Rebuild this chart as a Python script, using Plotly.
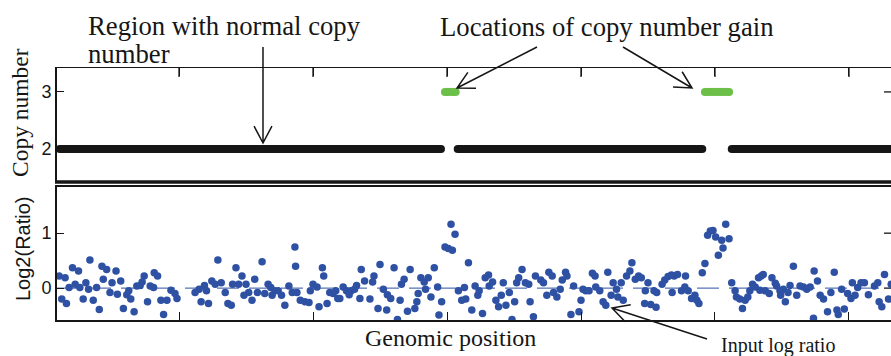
import math
import plotly.graph_objects as go

# ---------------- data ----------------
probe_pos = [2.1, 2.5, 3.0, 3.2, 3.6, 4.1, 4.5, 5.0, 5.2, 5.7, 6.1, 6.5, 6.7, 7.2, 7.7, 8.1, 8.5, 8.7,
             9.2, 9.7, 10.0, 10.6, 10.8, 11.3, 11.7, 12.2, 12.5, 12.8, 13.3, 13.7, 14.2, 14.5, 14.8,
             15.3, 15.7, 16.2, 16.3, 16.8, 17.3, 17.7, 18.2, 18.8, 19.4, 19.7,
             22.4, 23.0, 23.3, 23.8, 24.1, 24.4, 24.9, 25.4, 25.8, 26.3, 26.9, 27.3, 27.8, 28.0, 28.5,
             28.9, 29.4, 29.7, 30.0, 30.4, 30.9, 31.3, 31.7, 32.4, 32.8, 33.3, 33.7, 33.9, 34.3, 34.8,
             35.3, 35.8, 36.4, 36.9, 37.3, 37.4, 37.6, 38.1, 38.8, 39.4, 39.6, 40.0, 40.6, 40.9, 41.4,
             41.6, 42.1, 42.5, 43.0, 43.4, 43.7, 44.0, 44.5, 45.0, 45.4, 45.7, 46.2, 46.5, 47.0, 47.2,
             47.7, 48.5, 48.9, 49.1, 49.7, 50.0, 50.5, 51.0, 51.1, 51.6, 52.1, 52.6, 53.0, 53.2, 53.6,
             54.1, 54.5, 55.2, 55.5, 55.7, 56.1, 56.6, 56.8, 57.2, 57.6, 58.1, 58.6, 58.8, 59.2,
             59.7, 60.2, 60.6, 60.8, 61.2,
             61.7, 62.2, 62.6, 62.8, 63.2, 63.7, 64.2, 64.6, 64.8, 65.3, 65.7, 66.2, 66.3, 66.8, 67.3,
             67.7, 68.1, 68.4, 68.8, 69.3, 69.7, 70.1, 70.4, 70.7, 71.2, 71.7, 72.2, 72.4, 72.9, 73.2,
             74.0, 74.4, 74.9, 75.2, 75.7, 75.9, 76.4, 76.9, 77.2, 77.7, 77.9, 78.5, 78.9, 79.7, 80.0,
             80.3, 80.7, 81.2, 81.7, 82.1, 82.2, 82.8, 83.3, 83.7, 84.0, 84.5, 84.8, 85.3, 85.5, 86.0,
             86.3, 86.8, 87.3, 87.6, 88.1, 88.6, 89.0, 89.5, 89.6, 90.0, 90.4, 90.9, 91.3, 91.2, 92.1,
             92.5, 93.0, 93.5, 93.6, 93.9, 94.4, 95.0, 95.5, 95.6, 96.0, 96.5, 97.0, 97.3, 97.6, 98.1,
             98.5, 98.9, 99.3, 99.7, 100.1, 100.5, 101.0, 101.2, 101.6, 102.1,
             102.5, 103.0, 103.2, 103.7, 104.1, 104.5, 104.9, 105.2, 105.6, 106.0, 106.5, 106.7, 106.9,
             107.2, 107.5, 108.1, 108.5, 109.0, 109.2, 109.7, 109.8, 110.2, 110.5, 110.9, 111.2, 111.7,
             112.2, 112.7, 113.2, 113.7, 114.2, 114.7, 114.8, 115.3, 115.7, 116.2, 116.8, 117.3, 117.8,
             118.2, 118.4, 118.9, 119.3, 119.8, 120.3, 120.5, 120.9, 121.3, 121.8, 122.3, 122.9, 123.8,
             124.3, 124.5, 124.9, 125.3, 125.9, 126.3]

log2_ratio = [0.22, -0.20, 0.19, -0.28, 0.01, 0.37, 0.07, 0.31, 0.01, -0.20, 0.10, -0.02, 0.51, -0.22,
              0.01, -0.39, 0.40, 0.16, 0.34, -0.08, 0.10, 0.31, -0.11, 0.13, -0.37, -0.12, -0.05, -0.20,
              -0.43, 0.04, 0.05, 0.11, 0.22, -0.25, 0.04, 0.01, 0.28, 0.22, -0.22, -0.48, -0.22, -0.04,
              -0.10, -0.19,
              -0.08, -0.02, -0.25, 0.05, -0.05, -0.28, 0.13, 0.07, 0.51, 0.10, -0.08, -0.28, -0.31, 0.07,
              0.37, 0.07, 0.22, -0.13, 0.07, -0.08, -0.22, 0.16, -0.08, 0.48, -0.10, 0.07, 0.01, -0.13,
              -0.05, -0.05, -0.13, -0.31, 0.04, -0.08, 0.75, 0.40, -0.08, -0.22, -0.25, -0.26, -0.05,
              0.07, 0.02, -0.34, 0.37, 0.22, -0.28, -0.08, -0.10, -0.05, -0.19, -0.19, 0.02, -0.05,
              -0.12, -0.05, -0.02, 0.05, -0.19, 0.34, 0.13, -0.20, 0.11, 0.22, -0.37, 0.43, -0.02, -0.40,
              -0.12, -0.19, 0.37, -0.57, -0.22, 0.07, 0.16, -0.42, 0.34, -0.37, -0.25, -0.10, 0.19, 0.11,
              -0.02, 0.19, -0.16, 0.37, 0.02, -0.49, -0.25,
              0.75, 0.72, 1.16, 0.69, 0.98,
              -0.05, -0.22, 0.01, -0.20, 0.46, -0.40, 0.04, -0.13, -0.05, -0.46, 0.19, 0.24, 0.04, 0.11,
              -0.22, -0.34, -0.13, 0.10, -0.31, -0.08, -0.57, -0.25, 0.10, 0.19, 0.34, 0.10, 0.07, -0.25,
              -0.52, 0.22, 0.15, 0.10, -0.13, 0.29, 0.22, -0.08, -0.16, -0.02, 0.15, 0.29, 0.22, -0.48,
              0.04, -0.43, -0.22, -0.02, -0.05, -0.05, 0.27, 0.22, 0.02, -0.05, -0.25, -0.31, 0.29, -0.13,
              0.10, -0.02, -0.16, 0.10, -0.22, 0.22, 0.31, 0.46, 0.16, 0.22, 0.19, -0.28, -0.05, 0.10,
              -0.30, -0.05, -0.08, -0.35, 0.07, 0.15, 0.21, 0.24, -0.08, 0.22, 0.25, -0.05, 0.02, 0.22,
              -0.05, -0.19, -0.13, -0.22, -0.28, 0.28,
              0.45, 0.96, 1.04, 1.05, 0.93, 0.60, 0.87, 0.73, 1.16, 0.90,
              0.10, -0.05, -0.16, -0.20, -0.37, -0.22, -0.16, -0.05, 0.07, 0.02, 0.19, -0.04, 0.22, 0.25,
              -0.05, -0.10, 0.19, 0.09, 0.04, -0.05, -0.13, -0.02, -0.25, -0.08, 0.05, 0.40, -0.13, 0.04,
              0.02, -0.02, 0.02, -0.55, 0.31, 0.13, -0.13, -0.20, -0.43, -0.08, 0.29, -0.40, -0.48, -0.02,
              -0.38, -0.10, -0.19, 0.10, -0.13, 0.01, 0.10, 0.10, -0.12, 0.04, 0.10, -0.25, -0.34, 0.25,
              -0.20, 0.07]

seg_start = [2.2, 59.7, 61.6, 98.5, 102.5]
seg_end = [59.1, 61.3, 98.1, 102.1, 128.0]
seg_cn = [2, 3, 2, 3, 2]

x_range = [1.79, 126.27]
x_ticks = [20, 40, 60, 80, 100, 120]
cn_range = [1.42, 3.42]
cn_ticks = [2, 3]
lr_range = [-0.58, 1.84]
lr_ticks = [0, 1]

# ---------------- style ----------------
W, H = 891, 356
ML, MR, MT, MB = 57, 0, 68, 36
PW, PH = W - ML - MR, H - MT - MB
BLUE = "#2e51a3"
GREEN = "#6cc04a"
BLACK = "#161616"
SERIF = "Liberation Serif"
SANS = "Liberation Sans"


def px(x, y):
    return (x - ML) / PW, (H - MB - y) / PH


top_dom = [px(0, 182)[1], 1.0]
bot_dom = [0.0, px(0, 187)[1]]

fig = go.Figure()

fig.add_trace(go.Scatter(x=x_range, y=[0, 0], mode="lines",
                         line=dict(color=BLUE, width=1, dash="22px,10px"),
                         xaxis="x", yaxis="y", hoverinfo="skip"))
fig.add_trace(go.Scatter(x=probe_pos, y=log2_ratio, mode="markers",
                         marker=dict(size=7.5, color=BLUE, line=dict(width=0)),
                         xaxis="x", yaxis="y"))

for s, e, c in zip(seg_start, seg_end, seg_cn):
    col = GREEN if c == 3 else BLACK
    fig.add_trace(go.Scatter(x=[s, e], y=[c, c], mode="lines+markers",
                             line=dict(color=col, width=8),
                             marker=dict(size=8, color=col, line=dict(width=0)),
                             xaxis="x2", yaxis="y2"))

axis_common = dict(showgrid=False, zeroline=False, showline=True, linecolor=BLACK,
                   ticks="inside", tickcolor=BLACK)

fig.update_layout(
    width=W, height=H, showlegend=False,
    margin=dict(l=ML, r=MR, t=MT, b=MB, pad=0),
    paper_bgcolor="white", plot_bgcolor="white",
    xaxis=dict(domain=[0, 1], range=x_range, anchor="y", linewidth=2, mirror=True,
               ticklen=8, tickwidth=1.3, tickvals=x_ticks, showticklabels=False, **axis_common),
    yaxis=dict(domain=bot_dom, range=lr_range, anchor="x", linewidth=2,
               ticklen=7, tickwidth=1.3, tickvals=lr_ticks,
               tickfont=dict(family=SANS, size=18, color=BLACK), **axis_common),
    xaxis2=dict(domain=[0, 1], range=x_range, anchor="y2", side="top", linewidth=1,
                ticklen=8, tickwidth=1.3, tickvals=x_ticks, showticklabels=False,
                **axis_common),
    yaxis2=dict(domain=top_dom, range=cn_range, anchor="x2", linewidth=2,
                ticklen=7, tickwidth=1.3, tickvals=cn_ticks,
                tickfont=dict(family=SANS, size=18, color=BLACK), **axis_common),
)

shapes = []
# thick separator at bottom of top panel
shapes.append(dict(type="line", xref="paper", yref="paper", x0=px(55, 0)[0], x1=1.0,
                   y0=top_dom[0], y1=top_dom[0], line=dict(color=BLACK, width=3.5)))
# inward ticks hanging from the top border of the copy-number panel (paper coords)
for t in x_ticks:
    xp = (t - x_range[0]) / (x_range[1] - x_range[0])
    shapes.append(dict(type="line", xref="paper", yref="paper", x0=xp, x1=xp,
                       y0=1.0, y1=1.0 - 9 / PH, line=dict(color=BLACK, width=1.3)))
# right-side inward ticks
for t in cn_ticks:
    shapes.append(dict(type="line", xref="paper", yref="y2", x0=1 - 7 / PW, x1=1.0,
                       y0=t, y1=t, line=dict(color=BLACK, width=1.3), layer="below"))
for t in lr_ticks:
    shapes.append(dict(type="line", xref="paper", yref="y", x0=1 - 7 / PW, x1=1.0,
                       y0=t, y1=t, line=dict(color=BLACK, width=1.3), layer="below"))


def arrow(tail, tip, head_len=19, half_ang=28):
    ang = math.atan2(tail[1] - tip[1], tail[0] - tip[0])
    a1 = (tip[0] + head_len * math.cos(ang + math.radians(half_ang)),
          tip[1] + head_len * math.sin(ang + math.radians(half_ang)))
    a2 = (tip[0] + head_len * math.cos(ang - math.radians(half_ang)),
          tip[1] + head_len * math.sin(ang - math.radians(half_ang)))
    pts = [px(*tail), px(*tip), px(*a1), px(*a2)]
    path = "M {0[0]},{0[1]} L {1[0]},{1[1]} M {2[0]},{2[1]} L {1[0]},{1[1]} L {3[0]},{3[1]}".format(*pts)
    return dict(type="path", xref="paper", yref="paper", path=path,
                line=dict(color=BLACK, width=1.5))


shapes.append(arrow((263, 47), (263, 143)))
shapes.append(arrow((537, 47), (457, 88)))
shapes.append(arrow((623, 47), (692, 88)))
shapes.append(arrow((707, 339), (612, 308)))
fig.update_layout(shapes=shapes)


def note(text, x, y, size, family=SERIF, xanchor="left", angle=0):
    xp, yp = px(x, y)
    fig.add_annotation(text=text, x=xp, y=yp, xref="paper", yref="paper",
                       xanchor=xanchor, yanchor="middle", showarrow=False, textangle=angle,
                       font=dict(family=family, size=size, color=BLACK))


note("Region with normal copy", 86, 26, 26.7)
note("number", 86, 54, 26.7)
note("Locations of copy number gain", 438, 27, 26.7)
note("Genomic position", 450, 338, 24, xanchor="center")
note("Input log ratio", 778, 345, 20, xanchor="center")
note("Copy number", 20, 113, 23.5, xanchor="center", angle=-90)
note("Log2(Ratio)", 23, 249, 20, family=SANS, xanchor="center", angle=-90)

fig.write_html("out.html", config={"displayModeBar": False},
               post_script="document.body.style.margin='0';document.body.style.overflow='hidden';")
